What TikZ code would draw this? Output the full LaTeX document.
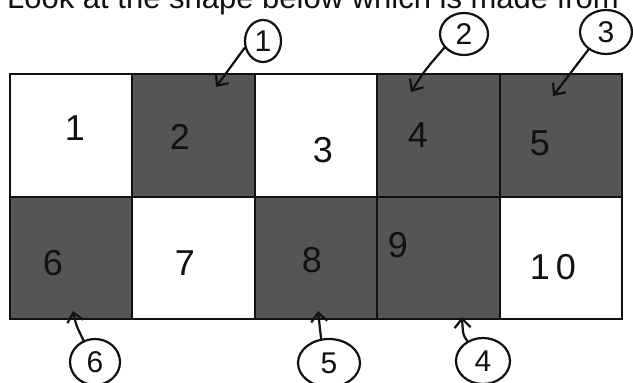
\documentclass[tikz,border=0pt]{standalone}
\usepackage{fontspec}
\setmainfont{Liberation Sans}
\usetikzlibrary{arrows.meta, shapes.geometric}
\definecolor{celdagris}{HTML}{555555}
\definecolor{tinta}{HTML}{111111}

\begin{document}
\begin{tikzpicture}[x=1pt, y=-1pt,
    celda/.style={draw=tinta, line width=2pt, minimum width=122.4pt, minimum height=122.5pt, inner sep=0pt},
    oscura/.style={celda, fill=celdagris},
    clara/.style={celda, fill=white},
    cifra/.style={font=\fontsize{36}{40}\selectfont, text=tinta},
    marca/.style={ellipse, draw=tinta, line width=2.2pt, inner sep=0pt, font=\fontsize{30}{34}\selectfont, text=tinta},
    flecha/.style={-{Straight Barb[length=9pt, width=16pt]}, line width=2.2pt, tinta, line cap=round}]
  \useasboundingbox (0,0) rectangle (633,383);

  % Enunciado (cortado arriba)
  \node[font=\fontsize{31}{37}\selectfont, anchor=base west, inner sep=0pt, text=tinta] (enunciado) at (7,8) {Look at the shape below which is made from};

  % Fila superior
  \node[clara] (c1) at (71.2,135.25) {};
  \node[oscura] (c2) at (193.6,135.25) {};
  \node[clara] (c3) at (316,135.25) {};
  \node[oscura] (c4) at (438.4,135.25) {};
  \node[oscura] (c5) at (560.8,135.25) {};
  % Fila inferior
  \node[oscura] (c6) at (71.2,257.75) {};
  \node[clara] (c7) at (193.6,257.75) {};
  \node[oscura] (c8) at (316,257.75) {};
  \node[oscura] (c9) at (438.4,257.75) {};
  \node[clara] (c10) at (560.8,257.75) {};

  % Numeros de las celdas
  \node[cifra] (n1) at (75,128) {1};
  \node[cifra] (n2) at (180,137) {2};
  \node[cifra] (n3) at (323,150) {3};
  \node[cifra] (n4) at (418,135) {4};
  \node[cifra] (n5) at (540,143) {5};
  \node[cifra] (n6) at (53,263) {6};
  \node[cifra] (n7) at (185,263) {7};
  \node[cifra] (n8) at (312,260) {8};
  \node[cifra] (n9) at (398,245) {9};
  \node[cifra] (n10) at (553,267) {1\kern6pt0};

  % Marcas circulares de arriba
  \node[marca, minimum width=36pt, minimum height=42pt] (m1) at (263,41) {1};
  \node[marca, minimum width=48pt, minimum height=42pt] (m2) at (464,34) {2};
  \node[marca, minimum width=52pt, minimum height=44pt] (m3) at (606,32) {3};
  % Marcas circulares de abajo
  \node[marca, minimum width=50pt, minimum height=46pt] (m6) at (95,362) {6};
  \node[marca, minimum width=62pt, minimum height=48pt] (m5) at (329,363) {5};
  \node[marca, minimum width=54pt, minimum height=46pt] (m4) at (483,361) {4};

  % Puntas de flecha dentro de las celdas
  \coordinate (t1) at (216,87);
  \coordinate (t2) at (411,92);
  \coordinate (t3) at (553,96);
  \coordinate (t6) at (73,311);
  \coordinate (t5) at (318,311);
  \coordinate (t4) at (462,317);

  % Flechas
  \draw[flecha] (m1.200) -- (t1);
  \draw[flecha] (m2.215) .. controls (425,70) .. (t2);
  \draw[flecha] (m3.225) -- (t3);
  \draw[flecha] (m6.118) .. controls (76,325) .. (t6);
  \draw[flecha] (m5.108) -- (t5);
  \draw[flecha] (m4.128) .. controls (463,335) .. (t4);
\end{tikzpicture}
\end{document}
